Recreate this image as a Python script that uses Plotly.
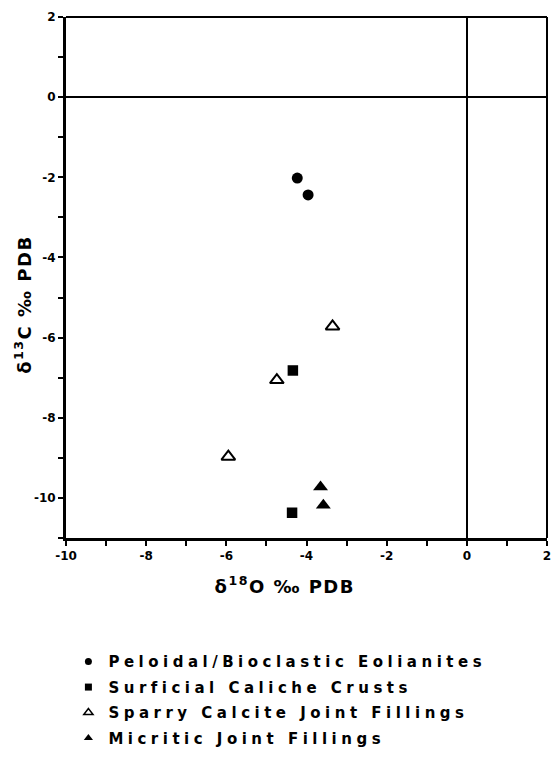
import plotly.graph_objects as go

# data (delta18O, delta13C)
eol_x = [-4.23, -3.96]
eol_y = [-2.02, -2.44]
cal_x = [-4.34, -4.36]
cal_y = [-6.82, -10.37]
spar_x = [-3.35, -4.74, -5.95]
spar_y = [-5.72, -7.06, -8.97]
mic_x = [-3.65, -3.58]
mic_y = [-9.73, -10.18]

names = ["Peloidal/Bioclastic Eolianites", "Surficial Caliche Crusts",
         "Sparry Calcite Joint Fillings", "Micritic Joint Fillings"]

x_ticks = [-10, -8, -6, -4, -2, 0, 2]
x_ticktext = ["-10", "-8", "-6", "-4", "-2", "0", "2"]
y_ticks = [2, 0, -2, -4, -6, -8, -10]
y_ticktext = ["2", "0", "-2", "-4", "-6", "-8", "-10"]

FONT = "DejaVu Sans, Liberation Sans, Arial, sans-serif"

fig = go.Figure()
specs = [
    (eol_x, eol_y, "circle", 11, 0, 7),
    (cal_x, cal_y, "square", 10.5, 0, 7),
    (spar_x, spar_y, "triangle-up-open", 12, 2, 8),
    (mic_x, mic_y, "triangle-up", 13, 0, 8),
]
for i, (xs, ys, sym, sz, lw, lsz) in enumerate(specs):
    fig.add_trace(go.Scatter(
        x=xs, y=ys, mode="markers", name=names[i], showlegend=False,
        marker=dict(symbol=sym, size=sz, color="black", line=dict(width=lw, color="black")),
    ))
    # legend entry with smaller symbol
    fig.add_trace(go.Scatter(
        x=[None], y=[None], mode="markers", name=names[i], legendgroup=str(i),
        marker=dict(symbol=sym, size=lsz, color="black", line=dict(width=1.5 if lw else 0, color="black")),
    ))

axis_common = dict(
    showgrid=False, zeroline=True, zerolinecolor="black", zerolinewidth=2,
    showline=True, linecolor="black", linewidth=3, automargin=False,
    ticks="outside", ticklen=5, tickwidth=2, tickcolor="black",
    tickfont=dict(family=FONT, size=12, color="black", weight="bold"),
    minor=dict(dtick=1, tick0=0, ticks="outside", ticklen=5, tickwidth=2, tickcolor="black"),
)
fig.update_xaxes(range=[-10, 2], tickmode="array", tickvals=x_ticks, ticktext=x_ticktext,
                 **axis_common)
fig.update_yaxes(range=[-11, 2], tickmode="array", tickvals=y_ticks, ticktext=y_ticktext,
                 **axis_common)

# top and right frame
fig.add_shape(type="line", xref="paper", yref="paper", x0=0, x1=1, y0=1, y1=1,
              line=dict(color="black", width=2))
fig.add_shape(type="line", xref="paper", yref="paper", x0=1, x1=1, y0=0, y1=1,
              line=dict(color="black", width=2))

fig.add_annotation(text="δ<sup>18</sup>O ‰ PDB", xref="paper", yref="paper",
                   x=0.455, y=-0.09, xanchor="center", yanchor="middle", showarrow=False,
                   font=dict(family=FONT, size=18, color="black", weight="bold"))
fig.add_annotation(text="δ<sup>13</sup>C ‰ PDB", xref="paper", yref="paper",
                   x=-0.089, y=0.447, xanchor="center", yanchor="middle",
                   showarrow=False, textangle=-90,
                   font=dict(family=FONT, size=18, color="black", weight="bold"))

fig.update_layout(
    width=553, height=766,
    margin=dict(l=66, r=6, t=17, b=228),
    paper_bgcolor="white", plot_bgcolor="white",
    showlegend=True,
    legend=dict(x=0.005, y=-0.206, xanchor="left", yanchor="top",
                font=dict(family=FONT, size=15, color="black", weight="bold"),
                tracegroupgap=3, itemsizing="trace", bgcolor="rgba(0,0,0,0)"),
)

post = """
document.body.style.margin='0';
document.querySelectorAll('.legend [clip-path]').forEach(function(e){e.removeAttribute('clip-path');});
document.querySelectorAll('.legendtext').forEach(function(e){e.style.letterSpacing='4.5px';});
document.querySelectorAll('.annotation-text').forEach(function(e){e.style.letterSpacing='1.5px';});
"""
fig.write_html("out.html", post_script=post, config={"displayModeBar": False})
